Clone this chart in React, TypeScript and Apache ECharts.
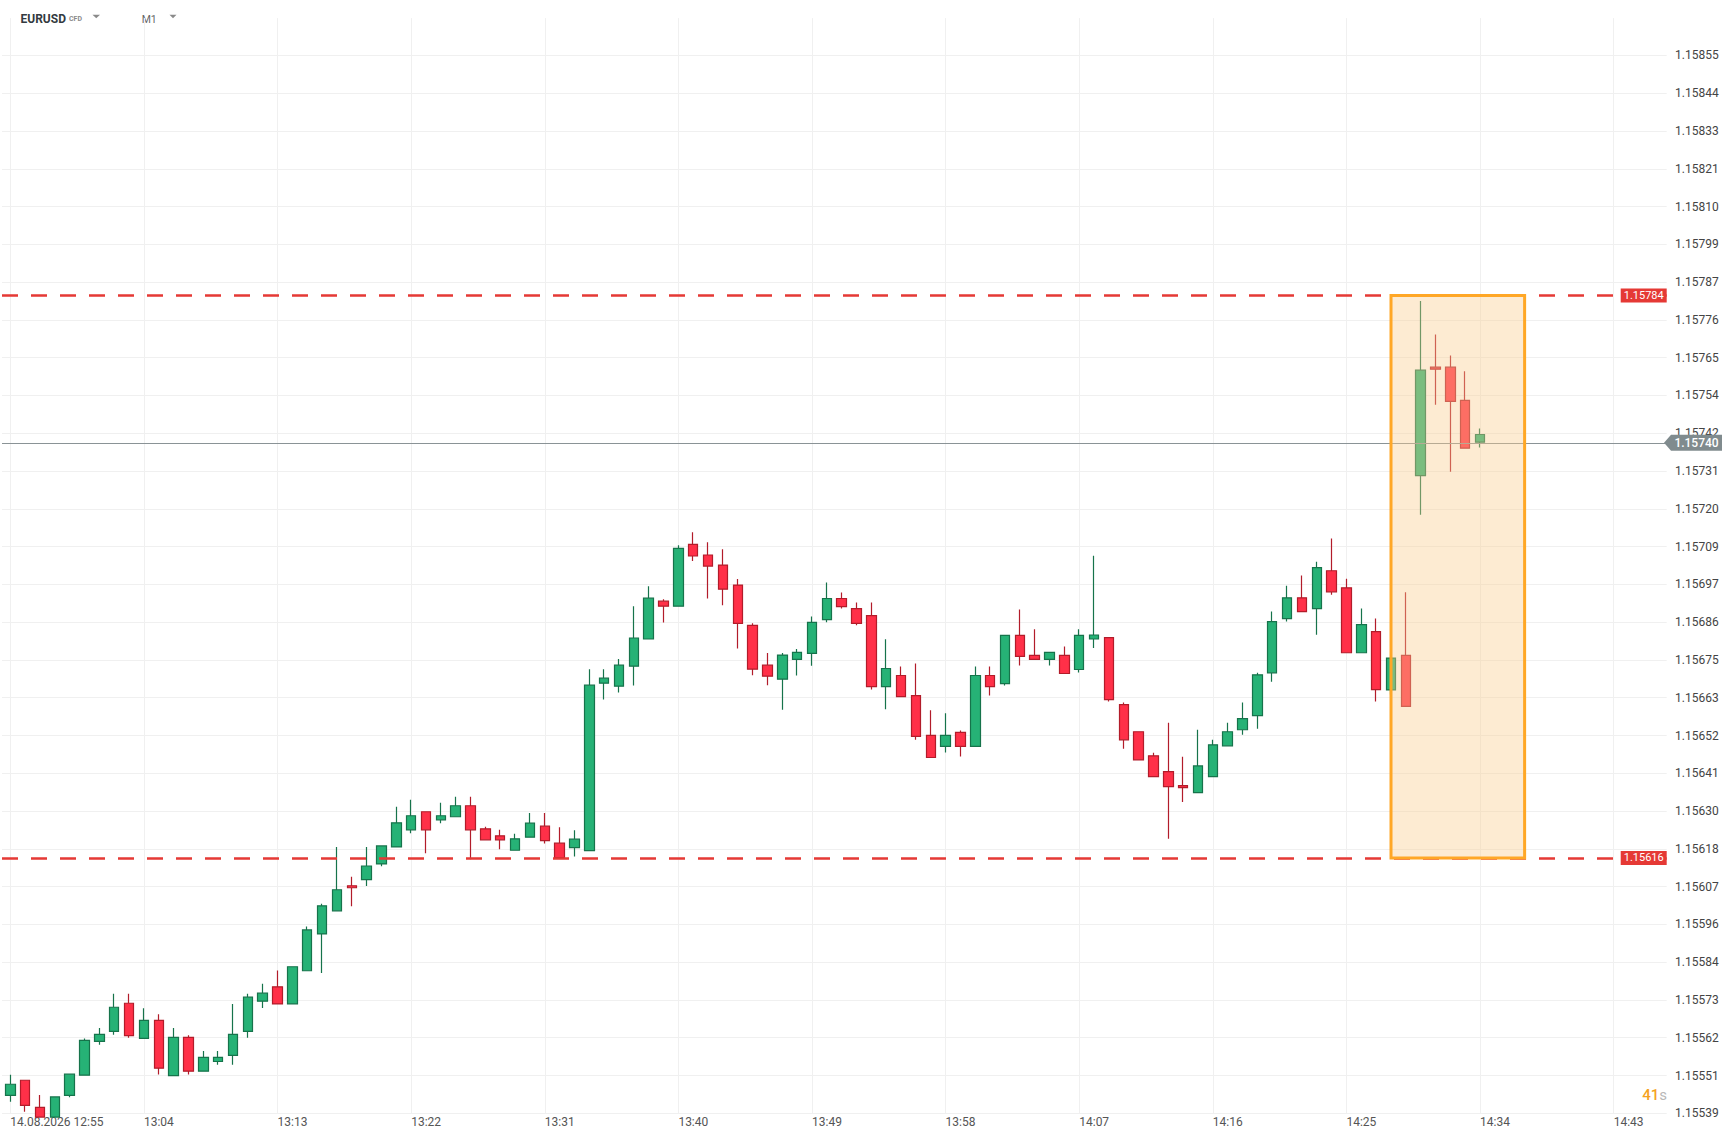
import React, { useEffect, useRef } from 'react';
import * as echarts from 'echarts';

// ---- data (1-minute EURUSD candles, 12:55 .. 14:34) ----
const startLabel = '12:55';
const openP = [
  1.155451, 1.155496, 1.155415, 1.155386, 1.155451, 1.155511, 1.155612, 1.155642, 1.155726, 1.155621,
  1.155675, 1.15551, 1.155624, 1.155523, 1.155552, 1.15557, 1.155642, 1.155732, 1.155775, 1.155724,
  1.155823, 1.155933, 1.156002, 1.156077, 1.156095, 1.156142, 1.156193, 1.156244, 1.156298, 1.156274,
  1.156283, 1.156316, 1.156247, 1.156226, 1.156183, 1.156222, 1.156255, 1.156204, 1.156191, 1.156182,
  1.156682, 1.156673, 1.156733, 1.156814, 1.156927, 1.156912, 1.157097, 1.157065, 1.157035, 1.156975,
  1.156855, 1.156736, 1.156694, 1.156753, 1.156771, 1.156872, 1.156935, 1.156905, 1.156884, 1.156672,
  1.156705, 1.156645, 1.156526, 1.156493, 1.156535, 1.156493, 1.156705, 1.156681, 1.156825, 1.156765,
  1.156753, 1.156765, 1.156723, 1.156814, 1.156818, 1.156618, 1.156537, 1.156465, 1.156418, 1.156376,
  1.156355, 1.156403, 1.156495, 1.156543, 1.156585, 1.156713, 1.156875, 1.156937, 1.156905, 1.157018,
  1.156967, 1.156773, 1.156836, 1.156662, 1.156765, 1.157302, 1.157626, 1.157626, 1.157527, 1.157402,
];
const closeP = [
  1.155484, 1.155421, 1.155386, 1.155446, 1.155514, 1.155615, 1.155633, 1.155714, 1.155629, 1.155675,
  1.155532, 1.155624, 1.155523, 1.155564, 1.155564, 1.155633, 1.155744, 1.155756, 1.155724, 1.155835,
  1.155945, 1.156017, 1.156065, 1.156071, 1.156136, 1.156196, 1.156265, 1.156286, 1.156244, 1.156286,
  1.156316, 1.156244, 1.156214, 1.156214, 1.156217, 1.156264, 1.156212, 1.156161, 1.156216, 1.156676,
  1.156697, 1.156736, 1.156817, 1.156936, 1.156912, 1.157085, 1.157062, 1.157032, 1.156963, 1.156861,
  1.156724, 1.156703, 1.156766, 1.156774, 1.156864, 1.156935, 1.156911, 1.156861, 1.156672, 1.156726,
  1.156642, 1.156523, 1.15646, 1.156526, 1.156493, 1.156705, 1.156672, 1.156825, 1.156762, 1.156753,
  1.156774, 1.156711, 1.156825, 1.156826, 1.156633, 1.156513, 1.156453, 1.156403, 1.156373, 1.15637,
  1.156435, 1.156498, 1.156537, 1.156576, 1.156707, 1.156866, 1.156937, 1.156896, 1.157027, 1.156955,
  1.156773, 1.156857, 1.156663, 1.156757, 1.156613, 1.157617, 1.15762, 1.157524, 1.157384, 1.157425,
];
const lowP = [
  1.155432, 1.155402, 1.155386, 1.155386, 1.155445, 1.155511, 1.155602, 1.155632, 1.155623, 1.155621,
  1.155513, 1.15551, 1.155513, 1.155523, 1.155542, 1.155542, 1.155623, 1.155712, 1.155724, 1.155724,
  1.155823, 1.155816, 1.156002, 1.156016, 1.156076, 1.156135, 1.156193, 1.156234, 1.156174, 1.156264,
  1.156283, 1.156156, 1.156214, 1.156186, 1.156183, 1.156222, 1.156203, 1.156161, 1.156164, 1.156182,
  1.156633, 1.156654, 1.156675, 1.156814, 1.156863, 1.156912, 1.157047, 1.156935, 1.156915, 1.156786,
  1.156706, 1.156676, 1.156603, 1.156705, 1.156734, 1.156864, 1.156905, 1.156855, 1.156663, 1.156604,
  1.156642, 1.156513, 1.15646, 1.156475, 1.156463, 1.156493, 1.156645, 1.156675, 1.156735, 1.156753,
  1.156735, 1.156711, 1.156714, 1.156787, 1.156627, 1.156486, 1.156453, 1.156403, 1.156217, 1.156327,
  1.156355, 1.156403, 1.156495, 1.156528, 1.156546, 1.156686, 1.156866, 1.156896, 1.156827, 1.156946,
  1.156773, 1.156773, 1.156627, 1.156648, 1.156613, 1.157185, 1.157514, 1.157314, 1.157384, 1.157386,
];
const highP = [
  1.155512, 1.155496, 1.155452, 1.155446, 1.155514, 1.155621, 1.155652, 1.155754, 1.155754, 1.155711,
  1.155693, 1.155652, 1.15563, 1.155583, 1.155583, 1.155724, 1.155754, 1.155784, 1.155824, 1.155835,
  1.155955, 1.156023, 1.156193, 1.156104, 1.156193, 1.156196, 1.156313, 1.156334, 1.156298, 1.156325,
  1.156343, 1.156343, 1.156253, 1.156244, 1.156232, 1.156294, 1.156294, 1.156252, 1.156243, 1.156724,
  1.156724, 1.156754, 1.156912, 1.156972, 1.156933, 1.157094, 1.157133, 1.157103, 1.157082, 1.156993,
  1.156861, 1.156772, 1.156772, 1.156784, 1.156881, 1.156983, 1.156953, 1.156923, 1.156923, 1.156813,
  1.156732, 1.156741, 1.156601, 1.156592, 1.156541, 1.156732, 1.156732, 1.156825, 1.156902, 1.156843,
  1.156774, 1.156792, 1.156843, 1.157063, 1.156818, 1.156624, 1.156537, 1.156474, 1.156564, 1.156462,
  1.156543, 1.156513, 1.156564, 1.156624, 1.156713, 1.156896, 1.156973, 1.157004, 1.157045, 1.157114,
  1.156994, 1.156905, 1.156875, 1.15676, 1.156954, 1.157824, 1.157724, 1.157661, 1.157614, 1.157443,
];

// x: minutes after 12:55
const xTickValues = [0, 9, 18, 27, 36, 45, 54, 63, 72, 81, 90, 99, 108];
const xTickLabels = [
  '14.08.2026 ' + startLabel, '13:04', '13:13', '13:22', '13:31', '13:40', '13:49',
  '13:58', '14:07', '14:16', '14:25', '14:34', '14:43',
];
const yTickLabels = [
  '1.15539', '1.15551', '1.15562', '1.15573', '1.15584', '1.15596', '1.15607', '1.15618',
  '1.15630', '1.15641', '1.15652', '1.15663', '1.15675', '1.15686', '1.15697', '1.15709',
  '1.15720', '1.15731', '1.15742', '1.15754', '1.15765', '1.15776', '1.15787', '1.15799',
  '1.15810', '1.15821', '1.15833', '1.15844', '1.15855',
];
const yTickBase = 1.1553972;
const yTickStep = 0.00079 / 7;

const resistance = 1.15784;
const support = 1.15616;
const lastPrice = 1.1574;
const zoneStart = 93; // 14:28
const zoneEnd = 102; // 14:37
const countdown = '41';

const X_MIN = -0.559;
const X_MAX = 111.57;

export default function App() {
  const ref = useRef<HTMLDivElement>(null);

  useEffect(() => {
    if (!ref.current) return;
    const chart = echarts.init(ref.current, undefined, { renderer: 'svg' });
    const font = 'Roboto';
    const candleData = openP.map((o, i) => [i, o, closeP[i], lowP[i], highP[i]]);

    const levelLabel = (v: number, color: string) => ({
      show: true,
      position: 'insideEnd',
      distance: 0,
      formatter: v.toFixed(5),
      color: '#ffffff',
      backgroundColor: color,
      padding: [2, 3, 1, 3],
      fontSize: 11,
      fontFamily: font,
    });

    const option: any = {
      animation: false,
      backgroundColor: '#ffffff',
      textStyle: { fontFamily: font },
      grid: { left: 2, right: 68.3, top: 18.07, bottom: 25.7, containLabel: false },
      xAxis: {
        type: 'value',
        min: X_MIN,
        max: X_MAX,
        axisLine: { show: false },
        axisTick: { show: false, customValues: xTickValues },
        axisLabel: {
          customValues: xTickValues,
          align: 'left',
          margin: 3,
          color: '#555555',
          fontSize: 12,
          fontFamily: font,
          formatter: (v: number) => {
            const i = xTickValues.indexOf(Math.round(v));
            return i >= 0 ? xTickLabels[i] : '';
          },
        },
        splitLine: { show: true, lineStyle: { color: '#f0f0f0', width: 1 } },
      },
      yAxis: {
        type: 'value',
        position: 'right',
        min: yTickBase,
        max: yTickBase + 28.99 * yTickStep,
        interval: yTickStep,
        axisLine: { show: false },
        axisTick: { show: false },
        axisLabel: {
          margin: 8.3,
          color: '#444444',
          fontSize: 12,
          fontFamily: font,
          showMaxLabel: false,
          formatter: (v: number) => {
            const k = Math.round((v - yTickBase) / yTickStep);
            if (Math.abs(v - (yTickBase + k * yTickStep)) > yTickStep * 0.02) return '';
            return yTickLabels[k] ?? '';
          },
        },
        splitLine: { show: true, showMaxLine: false, lineStyle: { color: '#f0f0f0', width: 1 } },
      },
      series: [
        {
          type: 'candlestick',
          data: candleData,
          encode: { x: 0, y: [1, 2, 3, 4] },
          barWidth: 10,
          z: 2,
          clip: true,
          itemStyle: {
            color: '#26B276',
            color0: '#FF3048',
            borderColor: '#16734B',
            borderColor0: '#B21C2A',
            borderWidth: 1.2,
          },
        },
        {
          type: 'line',
          data: [],
          z: 5,
          markLine: {
            silent: true,
            symbol: ['none', 'none'],
            precision: 6,
            z: 5,
            data: [
              {
                yAxis: resistance,
                lineStyle: { color: '#E53935', width: 2.5, type: [16, 13] },
                label: levelLabel(resistance, '#E53935'),
              },
              {
                yAxis: support,
                lineStyle: { color: '#E53935', width: 2.5, type: [16, 13] },
                label: levelLabel(support, '#E53935'),
              },
              {
                yAxis: lastPrice,
                lineStyle: { color: '#8a9396', width: 1, type: 'solid' },
                label: { show: false },
              },
            ],
          },
        },
        {
          type: 'line',
          data: [],
          z: 10,
          markArea: {
            silent: true,
            z: 10,
            itemStyle: {
              color: 'rgba(250,205,142,0.4)',
              borderColor: '#FFA726',
              borderWidth: 3,
            },
            data: [[{ coord: [zoneStart, resistance] }, { coord: [zoneEnd, support] }]],
          },
          markPoint: {
            silent: true,
            z: 12,
            data: [
              {
                coord: [X_MAX, lastPrice],
                symbol: 'path://M0,8L7,0L58,0L58,16L7,16Z',
                symbolSize: [58, 16],
                symbolOffset: [26.3, 0],
                itemStyle: { color: '#808b8e' },
                label: {
                  show: true,
                  position: 'inside',
                  offset: [3.5, 0.5],
                  formatter: lastPrice.toFixed(5),
                  color: '#ffffff',
                  fontSize: 12,
                  fontWeight: 500,
                  fontFamily: font,
                },
              },
            ],
          },
        },
      ],
      graphic: [
        {
          type: 'text',
          x: 20.5,
          y: 18.7,
          style: { text: 'EURUSD', fill: '#333a40', fontSize: 12, fontWeight: 'bold', fontFamily: font, verticalAlign: 'middle' },
        },
        {
          type: 'text',
          x: 69,
          y: 18.5,
          style: { text: 'CFD', fill: '#8a8a8a', fontSize: 7, fontWeight: 'bold', fontFamily: font, verticalAlign: 'middle' },
        },
        {
          type: 'polygon',
          shape: { points: [[92.5, 14.8], [100, 14.8], [96.25, 18.2]] },
          style: { fill: '#8a8a8a' },
        },
        {
          type: 'text',
          x: 141.7,
          y: 19.5,
          style: { text: 'M1', fill: '#666666', fontSize: 10.5, fontFamily: font, verticalAlign: 'middle' },
        },
        {
          type: 'polygon',
          shape: { points: [[169.5, 14.8], [176.5, 14.8], [173, 18.2]] },
          style: { fill: '#8a8a8a' },
        },
        {
          type: 'text',
          x: 1667,
          y: 1094.5,
          style: {
            text: '{a|' + countdown + '}{b|s}',
            align: 'right',
            verticalAlign: 'middle',
            rich: {
              a: { fill: '#F5A21E', fontSize: 15, fontFamily: font, fontWeight: 500 },
              b: { fill: '#b8b8b8', fontSize: 15, fontFamily: font },
            },
          },
        },
      ],
    };

    chart.setOption(option);
    return () => chart.dispose();
  }, []);

  return (
    <div
      ref={ref}
      style={{ position: 'absolute', left: 0, top: 0, width: 1735, height: 1139, background: '#ffffff' }}
    />
  );
}
